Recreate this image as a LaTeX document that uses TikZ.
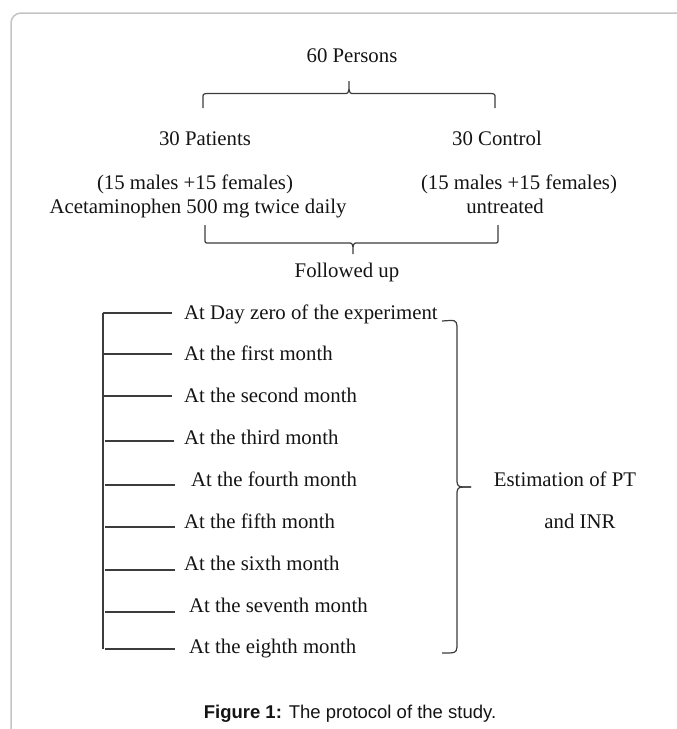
\documentclass[tikz,border=0pt]{standalone}
\usepackage{fontspec}
\setmainfont{Liberation Serif}
\newfontfamily\capfont{Liberation Sans}
\definecolor{ink}{HTML}{141414}
\definecolor{linecol}{HTML}{3C3C3C}
\definecolor{framecol}{HTML}{C4C4C4}
\tikzset{
  txt/.style={inner sep=0pt, text=ink, font=\fontsize{20.8}{24}\selectfont, anchor=base},
  item/.style={txt, anchor=base west},
  brace/.style={draw=linecol, line width=1.2pt},
  tick/.style={draw=linecol, line width=1.2pt},
  frame/.style={draw=framecol, line width=1.5pt, rounded corners=10pt}
}
\begin{document}
\begin{tikzpicture}[x=1pt,y=-1pt]
\useasboundingbox (0,0) rectangle (677,729);
\begin{scope}
\clip (0,0) rectangle (677,729);
\draw[frame] (700,13) -- (11,13) -- (11,760);
\end{scope}

% top level
\node[txt] (persons) at (352,62) {60 Persons};
\draw[brace] (203,108) -- (203,98) .. controls (203,94) .. (207,93.5) -- (344,93.5)
  .. controls (348,93.5) .. (349,89) -- (349,81);
\draw[brace] (349,89) .. controls (350,93.5) .. (354,93.5) -- (491,93.5)
  .. controls (495,94) .. (495,98) -- (495,108);

\node[txt] (patients) at (205,145) {30 Patients};
\node[txt] (control) at (497,145) {30 Control};
\node[txt] (pmf) at (195,189) {(15 males +15 females)};
\node[txt] (drug) at (198,213) {Acetaminophen 500 mg twice daily};
\node[txt] (cmf) at (519,189) {(15 males +15 females)};
\node[txt] (untr) at (505,213) {untreated};

\draw[brace] (205,225) -- (205,239) .. controls (205,243) .. (209,243) -- (348,243)
  .. controls (352,243) .. (353,247) -- (353,254);
\draw[brace] (353,247) .. controls (354,243) .. (358,243) -- (494,243)
  .. controls (498,243) .. (498,239) -- (498,225);
\node[txt] (follow) at (347,277) {Followed up};

% list
\node[item] (i0) at (184,319) {At Day zero of the experiment};
\node[item] (i1) at (184,360) {At the first month};
\node[item] (i2) at (184,402) {At the second month};
\node[item] (i3) at (184,444) {At the third month};
\node[item] (i4) at (191,486) {At the fourth month};
\node[item] (i5) at (184,528) {At the fifth month};
\node[item] (i6) at (184,570) {At the sixth month};
\node[item] (i7) at (189,612) {At the seventh month};
\node[item] (i8) at (189,653) {At the eighth month};

\coordinate (top) at (103,313);
\coordinate (bot) at (103,649);
\draw[tick] (top) -- (bot);
\draw[tick] (103,313) -- (172,313);
\draw[tick] (103,354) -- (172,354);
\draw[tick] (103,396) -- (172,396);
\draw[tick] (105,441) -- (174,441);
\draw[tick] (105,485) -- (175,485);
\draw[tick] (105,527) -- (175,527);
\draw[tick] (105,570) -- (175,570);
\draw[tick] (105,612) -- (175,612);
\draw[tick] (105,649) -- (175,649);

% right brace
\draw[brace] (442,321) .. controls (456,320) .. (457,326) -- (457,482)
  .. controls (458,487) .. (471,487);
\draw[brace] (471,487) .. controls (458,487) .. (457,492) -- (457,647)
  .. controls (456,653) .. (442,653);
\node[txt] (est) at (565,486) {Estimation of PT};
\node[txt] (inr) at (580,528) {and INR};

% caption
\node[inner sep=0pt, anchor=base, text=ink, font=\capfont\fontsize{18.5}{22}\selectfont] (cap) at (350,718)
  {\textbf{Figure 1:} The protocol of the study.};
\end{tikzpicture}
\end{document}
